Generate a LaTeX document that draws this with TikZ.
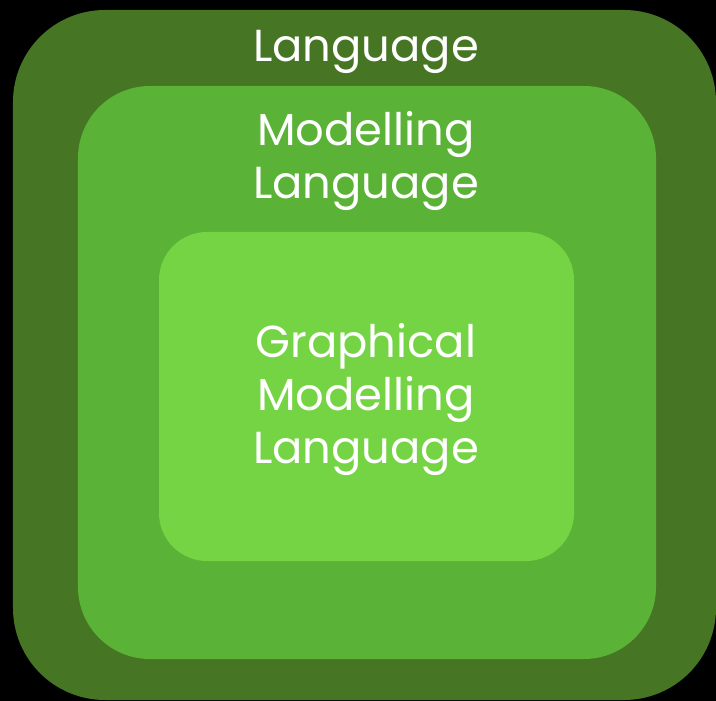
\documentclass[tikz,border=0pt]{standalone}
\usepackage{fontspec}
\setmainfont{Poppins}
\usepackage{tikz}
\usetikzlibrary{positioning}

\definecolor{langgreen}{RGB}{70,117,36}
\definecolor{modgreen}{RGB}{90,178,54}
\definecolor{graphgreen}{RGB}{116,212,67}

\tikzset{
    layer/.style={rounded corners=#1, inner sep=0pt, outer sep=0pt},
    layertext/.style={text=white, font=\fontsize{45}{53}\selectfont, align=center, inner sep=0pt},
}

\begin{document}
\begin{tikzpicture}[x=1bp, y=-1bp]
        \fill[black] (0,0) rectangle (716,701);
        \useasboundingbox (0,0) rectangle (716,701);

        % nested layers, outermost first
        \node[layer=92bp, fill=langgreen, minimum width=703bp, minimum height=690bp] (lang) at (364.5,355) {};
        \node[layer=72bp, fill=modgreen, minimum width=578bp, minimum height=573bp] (model) at (367,372.5) {};
        \node[layer=48bp, fill=graphgreen, minimum width=415bp, minimum height=329bp] (graph) at (366.5,396.5) {};

        % labels sit on the baseline of their last line
        \node[layertext, anchor=base] (langtxt) at (366,62) {Language};
        \node[layertext, anchor=base] (modeltxt) at (366,198) {Modelling\\Language};
        \node[layertext, anchor=base] (graphtxt) at (366,463) {Graphical\\Modelling\\Language};
    \end{tikzpicture}
\end{document}
